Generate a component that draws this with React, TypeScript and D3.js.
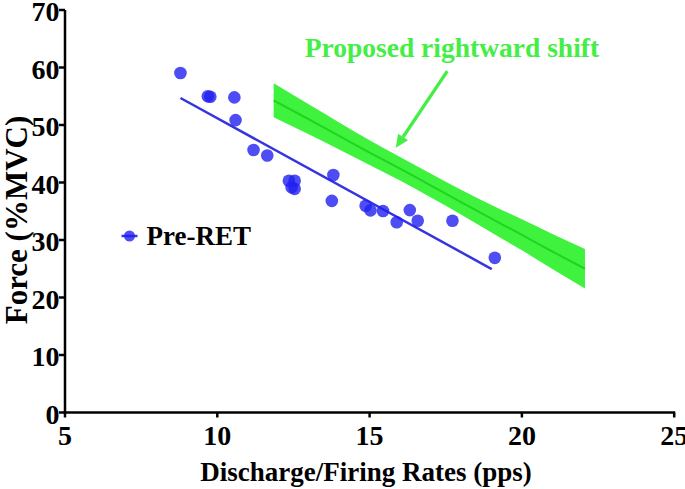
import React from "react";
import * as d3 from "d3";

// ---- data ----
const rateX = [8.79, 9.69, 9.77, 10.56, 10.6, 11.19, 11.64, 12.35, 12.54, 12.44, 12.54, 13.81, 13.76, 14.87, 15.03, 15.44, 15.89, 16.32, 16.58, 17.72, 19.11];
const forceY = [59.05, 55.0, 54.9, 54.8, 50.85, 45.65, 44.7, 40.3, 40.3, 39.15, 38.9, 41.3, 36.8, 35.95, 35.15, 35.05, 33.1, 35.2, 33.35, 33.35, 26.9];

const fitX = [8.79, 19.01];
const fitY = [54.7, 24.95];

const bandX = [11.85, 13, 14, 15, 16, 17, 18, 19, 20, 21, 22.07];
const bandMid = [54.3, 51.0, 48.1, 45.2, 42.4, 39.5, 36.6, 33.7, 30.9, 28.0, 25.0];
const bandUpper = [57.25, 53.6, 50.45, 47.35, 44.45, 41.55, 38.75, 36.1, 33.6, 31.05, 28.45];
const bandLower = [51.35, 48.4, 45.75, 43.05, 40.35, 37.45, 34.45, 31.3, 28.2, 24.95, 21.55];

const xTicks = [5, 10, 15, 20, 25];
const yTicks = [0, 10, 20, 30, 40, 50, 60, 70];

const annotText = "Proposed rightward shift";
const annotPos = [12.87, 61.85];
const arrowFrom = [17.55, 59.36];
const arrowTo = [15.86, 46.04];

const legendLabel = "Pre-RET";
const xTitle = "Discharge/Firing Rates (pps)";
const yTitle = "Force (%MVC)";

const W = 685;
const H = 489;
const FONT = "'Liberation Serif', 'Times New Roman', serif";

export default function App() {
  const x = d3.scaleLinear().domain([5, 25]).range([65, 674.2]);
  const y = d3.scaleLinear().domain([0, 70]).range([412.5, 10]);

  const area = d3
    .area<number>()
    .x((_, i) => x(bandX[i]))
    .y0((_, i) => y(bandLower[i]))
    .y1((_, i) => y(bandUpper[i]))
    .curve(d3.curveMonotoneX);
  const midLine = d3
    .line<number>()
    .x((_, i) => x(bandX[i]))
    .y((_, i) => y(bandMid[i]))
    .curve(d3.curveMonotoneX);
  const fitLine = d3
    .line<number>()
    .x((_, i) => x(fitX[i]))
    .y((_, i) => y(fitY[i]));

  const green = "#3ef23e";
  const blue = "#2020f0";

  // arrow geometry
  const ax1 = x(arrowFrom[0]);
  const ay1 = y(arrowFrom[1]);
  const ax2 = x(arrowTo[0]);
  const ay2 = y(arrowTo[1]);
  const ang = Math.atan2(ay2 - ay1, ax2 - ax1);
  const headLen = 13;
  const headW = 6;
  const bx = ax2 - headLen * Math.cos(ang);
  const by = ay2 - headLen * Math.sin(ang);
  const px = -Math.sin(ang) * headW;
  const py = Math.cos(ang) * headW;

  return (
    <svg width={W} height={H} style={{ position: "absolute", left: 0, top: 0, background: "#fff" }} fontFamily={FONT}>
      {/* green band */}
      <path d={area(bandX) || ""} fill={green} />
      <path d={midLine(bandX) || ""} fill="none" stroke="#1fd61f" strokeWidth={2} />

      {/* fit line */}
      <path d={fitLine(fitX) || ""} fill="none" stroke="#3535e0" strokeWidth={2.5} />

      {/* points */}
      {rateX.map((v, i) => (
        <circle key={i} cx={x(v)} cy={y(forceY[i])} r={6.3} fill={blue} fillOpacity={0.8} />
      ))}

      {/* axes */}
      <line x1={x(5)} x2={x(5)} y1={y(70)} y2={y(0) + 1.2} stroke="#000" strokeWidth={2.5} />
      <line x1={x(5) - 1.2} x2={x(25) + 1} y1={y(0)} y2={y(0)} stroke="#000" strokeWidth={2.5} />
      {yTicks.map((t) => (
        <g key={"y" + t}>
          <line x1={x(5) - 6} x2={x(5)} y1={y(t)} y2={y(t)} stroke="#000" strokeWidth={2.5} />
          <text x={x(5) - 5.5} y={y(t) + 11} textAnchor="end" fontSize={28} fontWeight="bold">
            {t}
          </text>
        </g>
      ))}
      {xTicks.map((t) => (
        <g key={"x" + t}>
          <line x1={x(t)} x2={x(t)} y1={y(0)} y2={y(0) + 5} stroke="#000" strokeWidth={2.5} />
          <text x={x(t)} y={445} textAnchor="middle" fontSize={28} fontWeight="bold">
            {t}
          </text>
        </g>
      ))}
      <text x={366} y={481} textAnchor="middle" fontSize={27} fontWeight="bold">
        {xTitle}
      </text>
      <text transform={`translate(27,220) rotate(-90)`} textAnchor="middle" fontSize={31} fontWeight="bold">
        {yTitle}
      </text>

      {/* legend */}
      <line x1={121.5} x2={137.5} y1={236} y2={236} stroke="#3535e0" strokeWidth={2.5} />
      <circle cx={129.5} cy={236} r={5.5} fill={blue} fillOpacity={0.8} />
      <text x={146.5} y={245} fontSize={27} fontWeight="bold">
        {legendLabel}
      </text>

      {/* annotation */}
      <text x={x(annotPos[0])} y={y(annotPos[1])} fontSize={27.5} fontWeight="bold" fill="#44ee44">
        {annotText}
      </text>
      <line x1={ax1} y1={ay1} x2={bx} y2={by} stroke="#44ee44" strokeWidth={3.3} />
      <path d={`M${ax2},${ay2}L${bx + px},${by + py}L${bx - px},${by - py}Z`} fill="#44ee44" />
    </svg>
  );
}
